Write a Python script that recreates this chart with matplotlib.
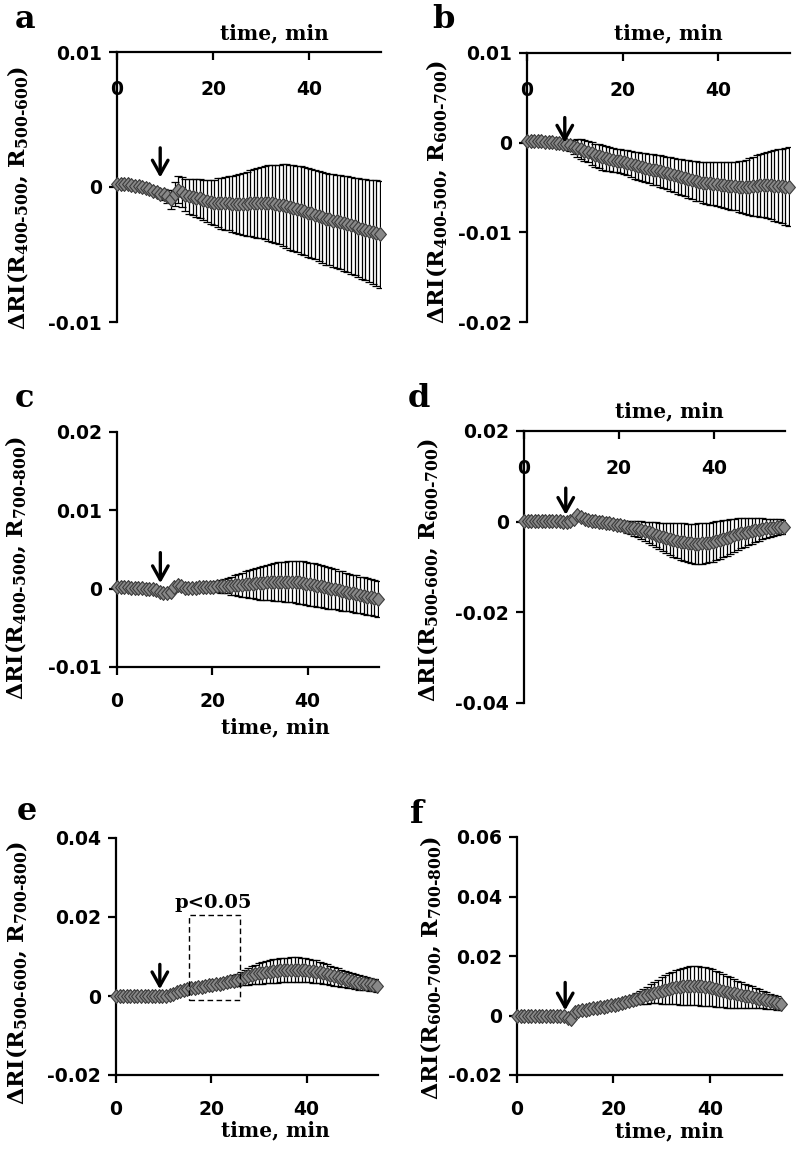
import numpy as np
import matplotlib
matplotlib.use("Agg")
import matplotlib.pyplot as plt
from matplotlib.patches import Rectangle
from matplotlib.ticker import FuncFormatter

# ---------------- data (values in units of 1e-3) ----------------
TIME_STEP_MIN = 0.75
N_POINTS = 74
time_min = np.arange(N_POINTS) * TIME_STEP_MIN
MILLI = 1e-3

mean_a = [0.25, 0.25, 0.2, 0.2, 0.15, 0.1, 0.05, 0.0, -0.1, -0.15,
          -0.3, -0.4, -0.5, -0.55, -0.7, -0.9, -0.5, -0.2, -0.35, -0.6,
          -0.7, -0.75, -0.8, -0.85, -0.95, -1.05, -1.1, -1.15, -1.15, -1.2,
          -1.2, -1.2, -1.25, -1.25, -1.25, -1.25, -1.25, -1.2, -1.2, -1.2,
          -1.15, -1.15, -1.2, -1.2, -1.25, -1.3, -1.35, -1.4, -1.5, -1.55,
          -1.65, -1.7, -1.8, -1.9, -1.95, -2.05, -2.15, -2.25, -2.35, -2.4,
          -2.5, -2.55, -2.6, -2.7, -2.75, -2.85, -2.9, -3.0, -3.1, -3.15,
          -3.25, -3.3, -3.4, -3.5]
err_a = [0.05, 0.05, 0.05, 0.05, 0.05, 0.05, 0.05, 0.05, 0.1, 0.1,
         0.15, 0.2, 0.3, 0.4, 0.5, 0.7, 0.9, 1.0, 1.1, 1.2,
         1.3, 1.35, 1.4, 1.45, 1.5, 1.55, 1.65, 1.7, 1.8, 1.9,
         1.95, 2.0, 2.1, 2.15, 2.2, 2.3, 2.35, 2.45, 2.5, 2.6,
         2.65, 2.7, 2.8, 2.85, 2.9, 2.95, 3.05, 3.1, 3.15, 3.2,
         3.2, 3.25, 3.25, 3.3, 3.3, 3.3, 3.35, 3.35, 3.4, 3.4,
         3.45, 3.45, 3.5, 3.5, 3.55, 3.6, 3.6, 3.65, 3.7, 3.75,
         3.8, 3.85, 3.9, 3.95]

mean_b = [0.2, 0.2, 0.2, 0.15, 0.15, 0.1, 0.1, 0.05, 0.0, 0.0,
          -0.1, -0.2, -0.3, -0.5, -0.6, -0.7, -0.9, -1.0, -1.2, -1.4,
          -1.5, -1.65, -1.75, -1.85, -1.9, -2.0, -2.05, -2.15, -2.25, -2.4,
          -2.5, -2.6, -2.7, -2.8, -2.9, -3.0, -3.05, -3.15, -3.25, -3.35,
          -3.5, -3.6, -3.75, -3.85, -3.95, -4.05, -4.15, -4.25, -4.35, -4.45,
          -4.5, -4.55, -4.6, -4.65, -4.7, -4.75, -4.8, -4.85, -4.85, -4.9,
          -4.9, -4.9, -4.9, -4.85, -4.8, -4.75, -4.7, -4.7, -4.75, -4.8,
          -4.8, -4.85, -4.9, -4.9]
err_b = [0.05, 0.05, 0.05, 0.05, 0.05, 0.05, 0.05, 0.05, 0.1, 0.1,
         0.2, 0.4, 0.6, 0.8, 1.0, 1.1, 1.2, 1.2, 1.3, 1.3,
         1.35, 1.35, 1.4, 1.35, 1.35, 1.3, 1.3, 1.35, 1.4, 1.45,
         1.5, 1.55, 1.6, 1.6, 1.65, 1.7, 1.7, 1.75, 1.8, 1.8,
         1.85, 1.9, 1.95, 2.0, 2.05, 2.1, 2.15, 2.2, 2.2, 2.25,
         2.3, 2.35, 2.4, 2.45, 2.5, 2.55, 2.6, 2.65, 2.7, 2.8,
         2.9, 3.0, 3.15, 3.3, 3.4, 3.5, 3.6, 3.7, 3.8, 3.95,
         4.05, 4.15, 4.3, 4.4]

mean_c = [0.2, 0.2, 0.15, 0.15, 0.1, 0.1, 0.05, 0.05, 0.0, 0.0,
          -0.1, -0.2, -0.4, -0.5, -0.6, -0.4, 0.2, 0.5, 0.3, 0.1,
          0.1, 0.1, 0.1, 0.15, 0.2, 0.2, 0.25, 0.25, 0.3, 0.3,
          0.35, 0.4, 0.4, 0.45, 0.5, 0.5, 0.55, 0.6, 0.65, 0.7,
          0.7, 0.75, 0.8, 0.85, 0.85, 0.9, 0.9, 0.9, 0.9, 0.9,
          0.85, 0.8, 0.75, 0.65, 0.55, 0.5, 0.4, 0.3, 0.2, 0.1,
          0.0, -0.1, -0.2, -0.3, -0.4, -0.5, -0.6, -0.7, -0.8, -0.9,
          -1.0, -1.1, -1.2, -1.3]
err_c = [0.05, 0.05, 0.05, 0.05, 0.05, 0.05, 0.05, 0.05, 0.05, 0.05,
         0.1, 0.1, 0.15, 0.2, 0.2, 0.25, 0.3, 0.3, 0.3, 0.3,
         0.3, 0.35, 0.35, 0.4, 0.45, 0.5, 0.55, 0.6, 0.7, 0.8,
         0.9, 1.0, 1.15, 1.3, 1.4, 1.55, 1.65, 1.8, 1.9, 2.0,
         2.1, 2.2, 2.25, 2.35, 2.4, 2.45, 2.5, 2.55, 2.6, 2.65,
         2.7, 2.7, 2.75, 2.75, 2.75, 2.75, 2.75, 2.7, 2.7, 2.65,
         2.6, 2.55, 2.5, 2.5, 2.45, 2.4, 2.4, 2.4, 2.35, 2.35,
         2.35, 2.3, 2.3, 2.3]

mean_d = [0.2, 0.2, 0.2, 0.2, 0.15, 0.15, 0.1, 0.1, 0.1, 0.05,
          0.05, 0.0, 0.0, 0.1, 0.6, 1.5, 1.0, 0.6, 0.4, 0.2,
          0.1, 0.0, -0.1, -0.2, -0.35, -0.5, -0.65, -0.8, -1.0, -1.15,
          -1.3, -1.5, -1.7, -1.9, -2.1, -2.35, -2.6, -2.85, -3.1, -3.35,
          -3.55, -3.8, -4.0, -4.2, -4.4, -4.55, -4.7, -4.8, -4.85, -4.85,
          -4.8, -4.7, -4.6, -4.45, -4.25, -4.05, -3.8, -3.55, -3.3, -3.05,
          -2.8, -2.6, -2.4, -2.2, -2.05, -1.9, -1.75, -1.6, -1.5, -1.4,
          -1.3, -1.2, -1.15, -1.1]
err_d = [0.05, 0.05, 0.05, 0.05, 0.05, 0.05, 0.05, 0.05, 0.05, 0.05,
         0.1, 0.1, 0.1, 0.15, 0.2, 0.3, 0.4, 0.5, 0.55, 0.6,
         0.6, 0.65, 0.7, 0.75, 0.8, 0.85, 0.95, 1.05, 1.15, 1.3,
         1.45, 1.6, 1.75, 1.95, 2.1, 2.3, 2.5, 2.7, 2.9, 3.1,
         3.3, 3.5, 3.7, 3.85, 4.0, 4.15, 4.25, 4.35, 4.4, 4.45,
         4.45, 4.45, 4.4, 4.35, 4.3, 4.2, 4.1, 3.95, 3.8, 3.65,
         3.5, 3.3, 3.15, 3.0, 2.8, 2.6, 2.45, 2.3, 2.15, 2.0,
         1.85, 1.75, 1.65, 1.55]

mean_e = [0.0, 0.0, 0.0, 0.0, 0.0, 0.0, 0.0, 0.0, 0.0, 0.0,
          0.0, 0.0, 0.0, 0.05, 0.1, 0.3, 0.6, 0.9, 1.2, 1.5,
          1.7, 1.9, 2.1, 2.2, 2.4, 2.55, 2.7, 2.85, 3.0, 3.15,
          3.3, 3.5, 3.7, 3.9, 4.15, 4.4, 4.7, 5.0, 5.25, 5.5,
          5.7, 5.85, 6.0, 6.15, 6.3, 6.4, 6.5, 6.55, 6.6, 6.65,
          6.65, 6.65, 6.6, 6.55, 6.45, 6.3, 6.15, 5.95, 5.75, 5.5,
          5.25, 5.0, 4.75, 4.5, 4.25, 4.0, 3.8, 3.6, 3.4, 3.25,
          3.1, 2.95, 2.8, 2.65]
err_e = [0.05, 0.05, 0.05, 0.05, 0.05, 0.05, 0.05, 0.05, 0.05, 0.05,
         0.1, 0.1, 0.1, 0.15, 0.2, 0.3, 0.35, 0.4, 0.45, 0.5,
         0.55, 0.6, 0.6, 0.65, 0.7, 0.75, 0.8, 0.85, 0.9, 0.95,
         1.0, 1.1, 1.2, 1.35, 1.5, 1.7, 1.9, 2.1, 2.3, 2.45,
         2.6, 2.7, 2.8, 2.9, 2.95, 3.0, 3.05, 3.1, 3.1, 3.1,
         3.1, 3.1, 3.05, 3.0, 2.95, 2.9, 2.85, 2.75, 2.65, 2.55,
         2.45, 2.35, 2.25, 2.15, 2.05, 1.95, 1.9, 1.85, 1.8, 1.75,
         1.7, 1.65, 1.6, 1.55]

mean_f = [0.0, 0.0, 0.0, 0.0, 0.0, 0.0, 0.0, 0.0, 0.0, 0.0,
          0.0, 0.0, 0.0, -0.2, -0.8, -1.1, 1.2, 1.6, 1.8, 2.0,
          2.2, 2.4, 2.6, 2.8, 3.0, 3.2, 3.4, 3.65, 3.9, 4.2,
          4.5, 4.85, 5.2, 5.6, 6.0, 6.45, 6.85, 7.25, 7.65, 8.05,
          8.4, 8.7, 9.0, 9.25, 9.5, 9.7, 9.85, 9.95, 10.0, 10.0,
          9.95, 9.85, 9.7, 9.5, 9.3, 9.0, 8.7, 8.35, 8.0, 7.7,
          7.4, 7.15, 6.9, 6.65, 6.4, 6.15, 5.9, 5.65, 5.4, 5.1,
          4.8, 4.5, 4.2, 3.9]
err_f = [0.05, 0.05, 0.05, 0.05, 0.05, 0.05, 0.05, 0.05, 0.05, 0.05,
         0.1, 0.1, 0.1, 0.1, 0.15, 0.2, 0.3, 0.35, 0.4, 0.45,
         0.5, 0.5, 0.55, 0.6, 0.65, 0.7, 0.75, 0.8, 0.9, 1.0,
         1.2, 1.4, 1.65, 1.9, 2.2, 2.5, 2.85, 3.2, 3.6, 4.0,
         4.4, 4.8, 5.15, 5.5, 5.8, 6.05, 6.25, 6.4, 6.5, 6.55,
         6.55, 6.5, 6.45, 6.35, 6.2, 6.0, 5.8, 5.6, 5.35, 5.1,
         4.85, 4.6, 4.35, 4.1, 3.85, 3.6, 3.35, 3.15, 2.95, 2.75,
         2.55, 2.4, 2.25, 2.1]

panel_letters = ["a", "b", "c", "d", "e", "f"]
ylabel_bands = [("400‐500", "500‐600"), ("400‐500", "600‐700"),
                ("400‐500", "700‐800"), ("500‐600", "600‐700"),
                ("500‐600", "700‐800"), ("600‐700", "700‐800")]
y_limits = [(-0.01, 0.01), (-0.02, 0.01), (-0.01, 0.02),
            (-0.04, 0.02), (-0.02, 0.04), (-0.02, 0.06)]
y_ticks = [[-0.01, 0, 0.01], [-0.02, -0.01, 0, 0.01], [-0.01, 0, 0.01, 0.02],
           [-0.04, -0.02, 0, 0.02], [-0.02, 0, 0.02, 0.04],
           [-0.02, 0, 0.02, 0.04, 0.06]]
x_ticks = [0, 20, 40]
x_limits = (0, 55)
xaxis_on_top = [True, True, False, True, False, False]
# arrow marking treatment: time, arrow tail value, arrow tip value
arrow_time = [9.0, 7.9, 9.1, 8.8, 9.2, 10.0]
arrow_tail = [0.0029, 0.0028, 0.0046, 0.0074, 0.0080, 0.0111]
arrow_tip = [0.0007, 0.0000, 0.0007, 0.0015, 0.0017, 0.0017]
# significance box in panel e
sig_box_time = (15.3, 26.1)
sig_box_value = (-0.0011, 0.0205)
sig_text = "p<0.05"
sig_text_pos = (20.5, 0.0222)

means = [mean_a, mean_b, mean_c, mean_d, mean_e, mean_f]
errs = [err_a, err_b, err_c, err_d, err_e, err_f]

# ---------------- layout (pixels) ----------------
W, H = 800, 1151
# left, top, right, bottom
axes_px = [(117, 52, 381, 322), (527, 53, 790, 322),
           (117, 432, 379, 667), (524, 431, 785, 703),
           (116, 838, 378, 1075), (517, 837, 782, 1075)]
ylabel_px = [(18, 198), (437, 192), (16, 568), (428, 570), (17, 973), (431, 968)]
xlabel_px = [(274, 39), (668, 39), (275, 733), (669, 417), (275, 1136), (669, 1137)]
letter_px = [(15, 28), (432, 28), (15, 407), (408, 407), (17, 820), (410, 823)]

plt.rcParams["font.family"] = "DejaVu Sans"
plt.rcParams["font.weight"] = "bold"
plt.rcParams["axes.unicode_minus"] = False
plt.rcParams["mathtext.fontset"] = "custom"
plt.rcParams["mathtext.rm"] = "DejaVu Serif:bold"
plt.rcParams["mathtext.bf"] = "DejaVu Serif:bold"
plt.rcParams["mathtext.it"] = "DejaVu Serif:bold:italic"

SERIF = dict(family="DejaVu Serif", weight="bold")

fig = plt.figure(figsize=(W / 100, H / 100), dpi=100)
fig.patch.set_facecolor("white")

diamond = [(0, 1), (0.85, 0), (0, -1), (-0.85, 0), (0, 1)]


def fx(px):
    return px / W


def fy(py):
    return 1 - py / H


for i in range(6):
    l, t, r, b = axes_px[i]
    ax = fig.add_axes([fx(l), fy(b), (r - l) / W, (b - t) / H])
    ax.set_facecolor("none")
    m = np.array(means[i]) * MILLI
    e = np.array(errs[i]) * MILLI
    ax.errorbar(time_min, m, yerr=e, fmt="none", ecolor="black",
                elinewidth=0.9, capsize=3, capthick=0.9, zorder=2)
    ax.plot(time_min, m, linestyle="none", marker=diamond, markersize=10,
            markerfacecolor="#888888", markeredgecolor="#3c3c3c",
            markeredgewidth=0.8, zorder=3, clip_on=False)

    ax.set_xlim(*x_limits)
    ax.set_ylim(*y_limits[i])
    ax.set_xticks(x_ticks)
    ax.set_yticks(y_ticks[i])
    ax.yaxis.set_major_formatter(FuncFormatter(lambda v, p: "%g" % round(v, 4)))
    ax.xaxis.set_major_formatter(FuncFormatter(lambda v, p: "%g" % v))

    for s in ["top", "right"]:
        ax.spines[s].set_visible(False)
    for s in ["left", "bottom"]:
        ax.spines[s].set_linewidth(1.6)
    if xaxis_on_top[i]:
        ax.spines["bottom"].set_position(("axes", 1.0))

    ax.tick_params(axis="both", direction="out", length=6, width=1.6,
                   labelsize=13.5, colors="black")
    ax.tick_params(axis="x", pad=12 if not xaxis_on_top[i] else 14)
    ax.tick_params(axis="y", pad=5)
    for lab in ax.get_xticklabels() + ax.get_yticklabels():
        lab.set_fontweight("bold")

    b1, b2 = ylabel_bands[i]
    ax.set_ylabel("ΔRI(R$_{%s}$, R$_{%s}$)" % (b1, b2), fontsize=16,
                  va="center", ha="center", **SERIF)
    yx, yy = ylabel_px[i]
    ax.yaxis.set_label_coords(fx(yx), fy(yy), transform=fig.transFigure)

    ax.set_xlabel("time, min", fontsize=14.5, va="baseline", ha="center", **SERIF)
    xx, xy = xlabel_px[i]
    ax.xaxis.set_label_coords(fx(xx), fy(xy), transform=fig.transFigure)

    ax.annotate("", xy=(arrow_time[i], arrow_tip[i]),
                xytext=(arrow_time[i], arrow_tail[i]),
                arrowprops=dict(arrowstyle="->,head_length=0.5,head_width=0.28",
                                mutation_scale=20, lw=2.4, color="black",
                                shrinkA=0, shrinkB=0),
                zorder=4)

    lx, ly = letter_px[i]
    fig.text(fx(lx), fy(ly), panel_letters[i], fontsize=23, ha="left",
             va="baseline", **SERIF)

    if panel_letters[i] == "e":
        ax.add_patch(Rectangle((sig_box_time[0], sig_box_value[0]),
                               sig_box_time[1] - sig_box_time[0],
                               sig_box_value[1] - sig_box_value[0],
                               fill=False, edgecolor="black", linewidth=1.0,
                               linestyle=(0, (4, 2.5)), zorder=4))
        ax.text(sig_text_pos[0], sig_text_pos[1], sig_text, fontsize=14,
                ha="center", va="baseline", **SERIF)

fig.savefig("out.png", dpi=100, facecolor="white")
